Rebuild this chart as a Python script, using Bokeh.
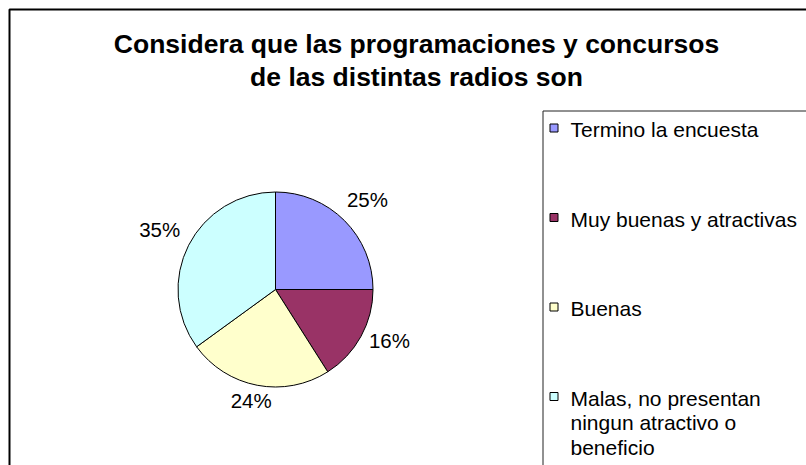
import math
from bokeh.plotting import figure
from bokeh.models import Range1d, ColumnDataSource
from bokeh.core.properties import value
from bokeh.embed import file_html
from bokeh.resources import INLINE

# ---- data ----
categories = ["Termino la encuesta", "Muy buenas y atractivas", "Buenas",
              "Malas, no presentan ningun atractivo o beneficio"]
values = [25, 16, 24, 35]
colors = ["#9999FF", "#993366", "#FFFFCC", "#CCFFFF"]
title_lines = ["Considera que las programaciones y concursos",
               "de las distintas radios son"]
legend_lines = [["Termino la encuesta"], ["Muy buenas y atractivas"], ["Buenas"],
                ["Malas, no presentan", "ningun atractivo o", "beneficio"]]

W, H = 806, 465
FONT = "Liberation Sans"
DY = 6  # text vertical correction


def X(px):
    return px


def Y(py):
    return H - py


p = figure(width=W, height=H, x_range=Range1d(0, W), y_range=Range1d(0, H),
           min_border=0, toolbar_location=None, output_backend="svg",
           x_axis_location=None, y_axis_location=None)
p.grid.visible = False
p.outline_line_color = None
p.background_fill_color = "white"
p.border_fill_color = "white"

# chart area frame (extends beyond window at right/bottom)
p.line([X(9), X(9), X(1200)], [Y(1200), Y(9), Y(9)], line_color="black", line_width=2)

# title
p.text(x=[X(416)] * 2, y=[Y(49 - DY), Y(82 - DY)], text=title_lines,
       text_font=value(FONT), text_font_style="bold", text_font_size="26.5px",
       text_align="center", text_baseline="alphabetic", text_color="black")

# pie
cx, cy, r = X(275), Y(289), 97.5
total = float(sum(values))
starts, ends, lx, ly, labels = [], [], [], [], []
cum = 0.0
for v in values:
    a_end = math.pi / 2 - 2 * math.pi * cum / total
    a_start = math.pi / 2 - 2 * math.pi * (cum + v) / total
    starts.append(a_start)
    ends.append(a_end)
    mid = (a_start + a_end) / 2
    lx.append(cx + 130 * math.cos(mid))
    ly.append(cy + 119 * math.sin(mid) + DY)
    labels.append(f"{round(100 * v / total)}%")
    cum += v

src = ColumnDataSource(dict(start=starts, end=ends, color=colors,
                            lx=lx, ly=ly, label=labels, cat=categories))
p.wedge(x=cx, y=cy, radius=r, start_angle="start", end_angle="end",
        direction="anticlock", fill_color="color", line_color="black",
        line_width=1, source=src)
p.text(x="lx", y="ly", text="label", source=src, text_font=value(FONT),
       text_font_size="20.5px", text_align="center", text_baseline="middle",
       text_color="black")

# legend box
p.line([X(542.5), X(542.5), X(1200)], [Y(1200), Y(110.5), Y(110.5)],
       line_color="#222222", line_width=1)

step = 89.5
mx, my = [], []
tx, ty, tt = [], [], []
for i, lines in enumerate(legend_lines):
    mx.append(X(553.5))
    my.append(Y(127.5 + i * step))
    for j, t in enumerate(lines):
        tx.append(X(570))
        ty.append(Y(135 - DY + i * step + j * 24.5))
        tt.append(t)

p.scatter(x=mx, y=my, marker="square", size=8, fill_color=colors,
          line_color="black", line_width=1)
p.text(x=tx, y=ty, text=tt, text_font=value(FONT), text_font_size="21px",
       text_align="left", text_baseline="alphabetic", text_color="black")

open("out.html", "w").write(file_html(p, INLINE))
